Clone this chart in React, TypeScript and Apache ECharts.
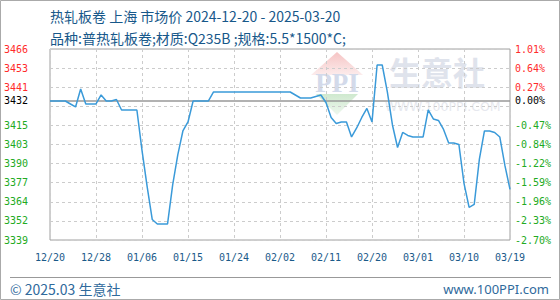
import React, { useEffect, useRef } from 'react';
import * as echarts from 'echarts';

const TITLE = '热轧板卷 上海 市场价 2024-12-20 - 2025-03-20';
const SUBTITLE = '品种:普热轧板卷;材质:Q235B ;规格:5.5*1500*C;';
const FOOTER_LEFT = '© 2025.03 生意社';
const FOOTER_RIGHT = 'www.100PPI.com';
const WATERMARK = '生意社';
const WATERMARK_URL = 'WWW.100PPI.COM';

const BASE_PRICE = 3432;
const Y_MIN = 3339.3;
const Y_MAX = 3466.66;

// horizontal grid lines (10 equal intervals)
const gridValues = [3466.66, 3453.92, 3441.19, 3428.45, 3415.72, 3402.98, 3390.25, 3377.51, 3364.78, 3352.04, 3339.3];
// label positions (base price replaces one grid value)
const labelValues = [3466.66, 3453.92, 3441.19, 3432, 3415.72, 3402.98, 3390.25, 3377.51, 3364.78, 3352.04, 3339.3];
const leftTickLabels = ['3466', '3453', '3441', '3432', '3415', '3403', '3390', '3377', '3364', '3352', '3339'];
const rightTickLabels = ['1.01%', '0.64%', '0.27%', '0.00%', '-0.47%', '-0.84%', '-1.22%', '-1.59%', '-1.96%', '-2.33%', '-2.70%'];
const xTickLabels = ['12/20', '12/28', '01/06', '01/15', '01/24', '02/02', '02/11', '02/20', '03/01', '03/10', '03/19'];
const X_LABEL_STEP = 9;

const START_DATE = Date.UTC(2024, 11, 20);
const DAY_COUNT = 91;

const prices = [
  3432, 3432, 3432, 3432, 3430, 3428, 3440, 3430, 3430, 3430,
  3436, 3432, 3432, 3433, 3426, 3426, 3426, 3426, 3399, 3375,
  3353, 3350, 3350, 3350, 3376, 3396, 3412, 3418, 3432, 3432,
  3432, 3432, 3438, 3438, 3438, 3438, 3438, 3438, 3438, 3438,
  3438, 3438, 3438, 3438, 3438, 3438, 3438, 3438, 3436, 3434,
  3434, 3434, 3435, 3436, 3431, 3421, 3417, 3418, 3418, 3408,
  3414, 3421, 3427, 3418, 3456, 3456, 3438, 3416, 3401, 3411,
  3409, 3408, 3408, 3408, 3426, 3420, 3419, 3413, 3404, 3404,
  3403, 3377, 3361, 3363, 3393, 3412, 3412, 3411, 3408, 3389,
  3373,
];

const pad = (n: number) => (n < 10 ? '0' + n : '' + n);
const dates: string[] = Array.from({ length: DAY_COUNT }, (_, i) => {
  const d = new Date(START_DATE + i * 86400000);
  return `${d.getUTCFullYear()}-${pad(d.getUTCMonth() + 1)}-${pad(d.getUTCDate())}`;
});

const labelIndex = (v: any) => {
  const n = Number(v);
  let best = 0;
  let bd = Infinity;
  labelValues.forEach((t, i) => {
    const d = Math.abs(t - n);
    if (d < bd) {
      bd = d;
      best = i;
    }
  });
  return best;
};

const labelColor = (v: any) => {
  const n = Number(v);
  if (Math.abs(n - BASE_PRICE) < 0.5) return '#000000';
  return n > BASE_PRICE ? '#ff2a2a' : '#22aa22';
};

const MONO = '"DejaVu Sans Mono", "Liberation Mono", monospace';
const CJK = '"Noto Sans CJK SC", "Noto Sans", sans-serif';

export default function App() {
  const ref = useRef<HTMLDivElement>(null);

  useEffect(() => {
    if (!ref.current) return;
    const chart = echarts.init(ref.current, undefined, { renderer: 'svg' });
    const dashed = { type: [3, 3] as any, color: '#cccccc', width: 1 };

    chart.setOption({
      animation: false,
      backgroundColor: '#ffffff',
      grid: {
        left: 50,
        right: 50,
        top: 49,
        bottom: 60,
        show: true,
        borderColor: '#a0a0a0',
        borderWidth: 1,
      },
      xAxis: {
        type: 'category',
        data: dates,
        boundaryGap: false,
        axisLine: { show: false },
        axisTick: { show: false },
        axisLabel: {
          interval: (i: number) => i % X_LABEL_STEP === 0,
          formatter: (_v: string, i: number) => xTickLabels[i / X_LABEL_STEP] ?? '',
          color: '#1a5a8a',
          fontFamily: MONO,
          fontSize: 10,
          margin: 12,
        },
        splitLine: {
          show: true,
          interval: (i: number) => i % X_LABEL_STEP === 0,
          lineStyle: dashed,
        },
      },
      yAxis: [
        {
          type: 'value',
          position: 'left',
          min: Y_MIN,
          max: Y_MAX,
          axisLine: { show: false },
          axisTick: { show: false, customValues: gridValues },
          splitLine: { show: true, lineStyle: dashed },
          axisLabel: {
            customValues: labelValues,
            formatter: (v: any) => leftTickLabels[labelIndex(v)],
            color: labelColor,
            fontFamily: MONO,
            fontSize: 10,
            margin: 22,
          },
        },
        {
          type: 'value',
          position: 'right',
          min: Y_MIN,
          max: Y_MAX,
          axisLine: { show: false },
          axisTick: { show: false, customValues: gridValues },
          splitLine: { show: false },
          axisLabel: {
            customValues: labelValues,
            formatter: (v: any) => rightTickLabels[labelIndex(v)],
            color: labelColor,
            fontFamily: MONO,
            fontSize: 10,
            margin: 5,
          },
        },
      ],
      series: [
        {
          type: 'line',
          data: prices,
          yAxisIndex: 0,
          showSymbol: false,
          symbol: 'none',
          z: 3,
          lineStyle: { color: '#3a9ad9', width: 1.5 },
          markLine: {
            silent: true,
            symbol: 'none',
            label: { show: false },
            lineStyle: { color: '#999999', width: 1.5, type: 'solid' },
            data: [{ yAxis: BASE_PRICE }],
            z: 2,
          },
        },
      ],
      graphic: [
        {
          type: 'rect',
          z: 0,
          shape: { x: 0.5, y: 0.5, width: 559, height: 299 },
          style: { fill: 'none', stroke: '#aaaaaa', lineWidth: 1 },
        },
        // watermark logo
        {
          type: 'polygon',
          z: 0,
          shape: { points: [[337, 52], [311, 75], [363, 75]] },
          style: {
            fill: new echarts.graphic.LinearGradient(0, 0, 0, 1, [
              { offset: 0, color: '#f6c4c4' },
              { offset: 1, color: '#fcecec' },
            ]),
          },
        },
        {
          type: 'text',
          z: 0,
          x: 337,
          y: 83,
          style: {
            text: 'PPI',
            fontFamily: '"Liberation Serif", serif',
            fontWeight: 'bold',
            fontSize: 27,
            fill: '#d3daea',
            align: 'center',
            verticalAlign: 'middle',
          },
        },
        {
          type: 'polygon',
          z: 0,
          shape: { points: [[316, 94], [358, 94], [337, 115]] },
          style: {
            fill: new echarts.graphic.LinearGradient(0, 0, 0, 1, [
              { offset: 0, color: '#cfe9cf' },
              { offset: 1, color: '#eef7ee' },
            ]),
          },
        },
        {
          type: 'text',
          z: 0,
          x: 389,
          y: 71,
          style: {
            text: WATERMARK,
            fontFamily: CJK,
            fontWeight: 'bold',
            fontSize: 32,
            fill: '#dfe3ec',
            verticalAlign: 'middle',
          },
        },
        {
          type: 'text',
          z: 0,
          x: 385,
          y: 106,
          style: {
            text: WATERMARK_URL,
            fontFamily: '"DejaVu Sans", sans-serif',
            fontSize: 12.5,
            fill: '#e6e8ee',
            verticalAlign: 'middle',
          },
        },
        // titles
        {
          type: 'text',
          x: 50,
          y: 16,
          style: {
            text: TITLE,
            fontFamily: CJK,
            fontSize: 14,
            fill: '#17588a',
            verticalAlign: 'middle',
          },
        },
        {
          type: 'text',
          x: 50,
          y: 37.5,
          style: {
            text: SUBTITLE,
            fontFamily: CJK,
            fontSize: 14,
            fill: '#17588a',
            verticalAlign: 'middle',
          },
        },
        // footer
        {
          type: 'line',
          shape: { x1: 10, y1: 277.5, x2: 551, y2: 277.5 },
          style: { stroke: '#999999', lineWidth: 1 },
        },
        {
          type: 'text',
          x: 10,
          y: 288.5,
          style: {
            text: FOOTER_LEFT,
            fontFamily: CJK,
            fontSize: 14,
            fill: '#2f6a9c',
            verticalAlign: 'middle',
          },
        },
        {
          type: 'text',
          x: 549,
          y: 288.5,
          style: {
            text: FOOTER_RIGHT,
            fontFamily: '"Noto Sans", sans-serif',
            fontSize: 13,
            fill: '#2f6a9c',
            align: 'right',
            verticalAlign: 'middle',
          },
        },
      ],
    });

    return () => {
      chart.dispose();
    };
  }, []);

  return (
    <div
      ref={ref}
      style={{ position: 'fixed', left: 0, top: 0, width: 560, height: 300, background: '#fff' }}
    />
  );
}
